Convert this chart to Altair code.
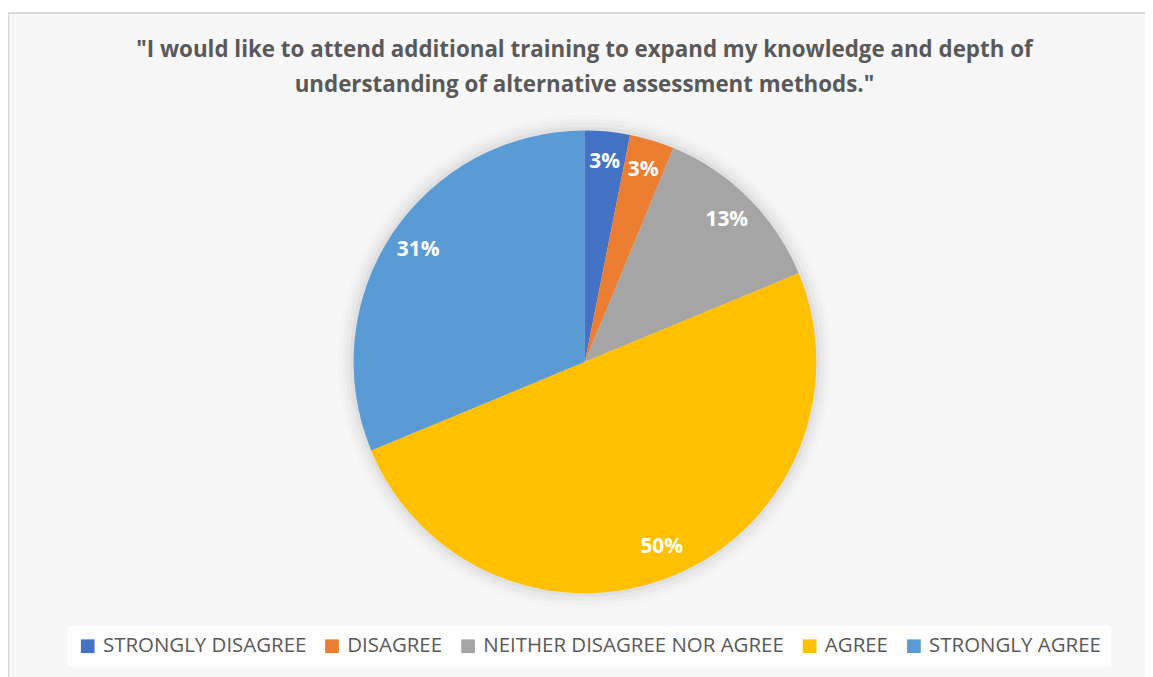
import altair as alt
import pandas as pd

categories = ["STRONGLY DISAGREE", "DISAGREE", "NEITHER DISAGREE NOR AGREE", "AGREE", "STRONGLY AGREE"]
counts = [1, 1, 4, 16, 10]
colors = ["#4472C4", "#ED7D31", "#A5A5A5", "#FFC000", "#5B9BD5"]
title_lines = ['"I would like to attend additional training to expand my knowledge and depth of',
               'understanding of alternative assessment methods."']

df = pd.DataFrame({"category": categories, "count": counts, "idx": list(range(len(categories)))})

CX, CY, R = 581, 254, 233

base = alt.Chart(df).transform_joinaggregate(total="sum(count)").transform_calculate(
    frac="datum.count / datum.total"
)

bg = alt.Chart(df).mark_rect(fill="#f7f7f7", stroke="#d9d9d9", strokeWidth=1.5).encode(
    x=alt.value(0.5), x2=alt.value(1300), y=alt.value(-97), y2=alt.value(700)
)

shadow_layers = []
for k, op in [(16, 0.012), (12, 0.018), (8, 0.025), (4, 0.035)]:
    shadow_layers.append(
        alt.Chart(df).mark_arc(radius=R + k, fill="#000000", opacity=op).encode(
            theta=alt.Theta("count:Q", stack=True),
            x=alt.value(CX), y=alt.value(CY),
        )
    )

arcs = base.mark_arc(radius=R).encode(
    theta=alt.Theta("count:Q", stack=True),
    order=alt.Order("idx:Q"),
    color=alt.Color(
        "category:N",
        sort=categories,
        scale=alt.Scale(domain=categories, range=colors),
        legend=alt.Legend(
            title=None, orient="none", direction="horizontal", columns=5,
            legendX=60, legendY=520,
            symbolType="square", symbolSize=190, symbolStrokeWidth=0,
            labelFont="Open Sans", labelFontSize=20.6, labelColor="#595959",
            labelOffset=5, columnPadding=15, labelLimit=400,
            fillColor="#ffffff", padding=10,
        ),
    ),
    x=alt.value(CX), y=alt.value(CY),
)

labels = base.mark_text(radius=202, font="Open Sans", fontSize=21, fontWeight="bold", color="white").encode(
    theta=alt.Theta("count:Q", stack=True),
    order=alt.Order("idx:Q"),
    text=alt.Text("frac:Q", format=".0%"),
    x=alt.value(CX), y=alt.value(CY),
)

chart = alt.layer(bg, *shadow_layers, arcs, labels).properties(
    width=1145, height=569,
    autosize=alt.AutoSizeParams(type="none"),
    padding={"top": 100, "left": 0, "right": 0, "bottom": 0},
    title=alt.TitleParams(
        text=title_lines, anchor="middle", font="Open Sans", fontSize=22.5, fontWeight="bold",
        color="#595959", lineHeight=35, frame="group", offset=0, dy=84, dx=8,
    ),
).configure_view(stroke=None)

chart.save("out.html", embed_options={"renderer": "svg", "actions": False})
